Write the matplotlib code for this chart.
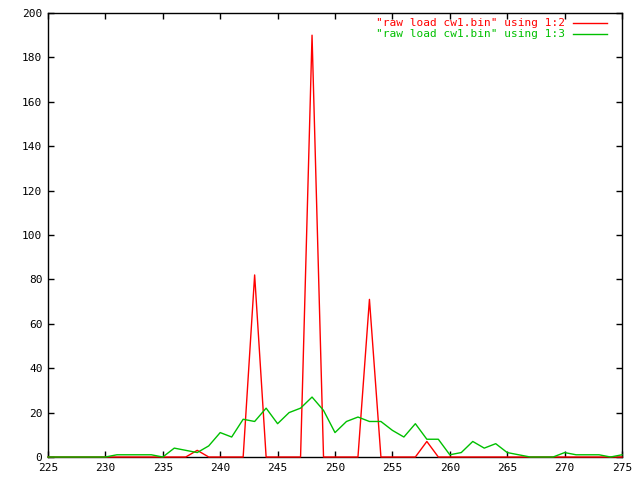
import matplotlib
matplotlib.use("Agg")
import matplotlib.pyplot as plt
from matplotlib.lines import Line2D

x = list(range(225, 276))
# column 2 (red)
red_peaks = {238: 3, 243: 82, 248: 190, 253: 71, 258: 7}
col2 = [red_peaks.get(v, 0) for v in x]
# column 3 (green)
col3 = [0, 0, 0, 0, 0, 0,            # 225-230
        1, 1, 1, 1, 0,               # 231-235
        4, 3, 2, 5, 11, 9, 17, 16, 22, 15,   # 236-245
        20, 22, 27, 21, 11, 16, 18, 16, 16, 12,  # 246-255
        9, 15, 8, 8, 1, 2, 7, 4, 6, 2,   # 256-265
        1, 0, 0, 0, 2, 1, 1, 1, 0, 1]    # 266-275

labels = ['"raw load cw1.bin" using 1:2', '"raw load cw1.bin" using 1:3']
colors = ['#ff0000', '#00c000']

fig = plt.figure(figsize=(6.4, 4.8), dpi=100)
ax = fig.add_axes([48/640, 23/480, (622-48)/640, (457-13)/480])
ax.plot(x, col2, color=colors[0], lw=1, clip_on=False, zorder=3)
ax.plot(x, col3, color=colors[1], lw=1, clip_on=False, zorder=4)
ax.set_xlim(225, 275)
ax.set_ylim(0, 200)
ax.set_xticks(range(225, 276, 5))
ax.set_yticks(range(0, 201, 20))
ax.tick_params(direction='in', top=True, right=True, length=4.3, width=1,
               labelsize=8, pad=4)
for lab in ax.get_xticklabels() + ax.get_yticklabels():
    lab.set_family('DejaVu Sans Mono')
for s in ax.spines.values():
    s.set_linewidth(1)

ys = [23, 34]
for lab, c, yy in zip(labels, colors, ys):
    fig.text(565/640, 1 - yy/480, lab, color=c, ha='right', va='center',
             family='DejaVu Sans Mono', fontsize=8)
    fig.add_artist(Line2D([573/640, 607/640], [1 - yy/480, 1 - yy/480],
                          color=c, lw=1, transform=fig.transFigure))

fig.savefig('out.png', dpi=100)
